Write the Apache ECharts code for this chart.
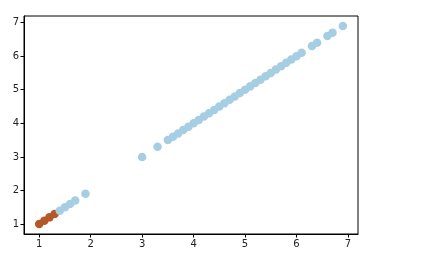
<!DOCTYPE html>
<html>
<head>
<meta charset="utf-8">
<script src="https://cdn.jsdelivr.net/npm/echarts@6/dist/echarts.min.js"></script>
<style>html,body{margin:0;padding:0;background:#fff}#c{width:447px;height:267px}</style>
</head>
<body>
<div id="c"></div>
<script>
var clusterA = [1.0, 1.1, 1.2, 1.3];
var clusterB = [1.4, 1.5, 1.6, 1.7, 1.9, 3.0, 3.3, 3.5, 3.6, 3.7, 3.8, 3.9, 4.0, 4.1, 4.2, 4.3, 4.4, 4.5, 4.6, 4.7, 4.8, 4.9, 5.0, 5.1, 5.2, 5.3, 5.4, 5.5, 5.6, 5.7, 5.8, 5.9, 6.0, 6.1, 6.3, 6.4, 6.6, 6.7, 6.9];
var tickValues = [1, 2, 3, 4, 5, 6, 7];

function pts(a){ return a.map(function(v){ return [v, v]; }); }

var chart = echarts.init(document.getElementById('c'), null, {renderer: 'canvas'});
var axisCommon = {
  type: 'value', min: 0.705, max: 7.195,
  splitLine: {show: false},
  axisLine: {show: true, onZero: false, lineStyle: {color: '#000', width: 1}},
  axisTick: {show: true, inside: false, length: 3.5, lineStyle: {color: '#000'}, customValues: tickValues},
  axisLabel: {show: true, color: '#222', fontFamily: 'DejaVu Sans', fontSize: 10, margin: 5, customValues: tickValues}
};
chart.setOption({
  animation: false,
  grid: {left: 24, top: 16, right: 89, bottom: 33, show: true, borderColor: '#000', borderWidth: 1, backgroundColor: 'transparent'},
  xAxis: axisCommon,
  yAxis: Object.assign({}, axisCommon),
  series: [
    {type: 'scatter', data: pts(clusterA), symbolSize: 8.5, itemStyle: {color: '#b15928', opacity: 1}},
    {type: 'scatter', data: pts(clusterB), symbolSize: 8.5, itemStyle: {color: '#a6cee3', opacity: 1}}
  ]
});
</script>
</body>
</html>
